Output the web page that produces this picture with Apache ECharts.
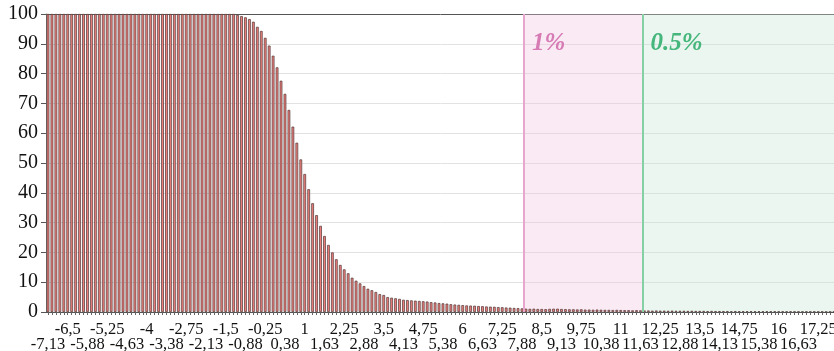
<!DOCTYPE html>
<html>
<head>
<meta charset="utf-8">
<script src="https://cdn.jsdelivr.net/npm/echarts@6/dist/echarts.min.js"></script>
<style>
html,body{margin:0;padding:0;background:#fff}
#chart{width:834px;height:351px}
</style>
</head>
<body>
<div id="chart"></div>
<script>
// x categories: -7.125 .. 17.75, step 0.125 (200 bins)
const xStart = -7.125;
const xStep = 0.125;
const binCount = 200;

// share (%) per bin
const shareValues = [
  100,100,100,100,100,100,100,100,100,100,
  100,100,100,100,100,100,100,100,100,100,
  100,100,100,100,100,100,100,100,100,100,
  100,100,100,100,100,100,100,100,100,100,
  100,100,100,100,100,100,100,100,99.7,99.3,
  98.9,98.3,97.4,95.7,94.3,92.0,89.4,86.0,82.1,77.6,
  73.2,67.8,62.2,56.8,51.2,46.3,41.2,36.5,32.5,28.9,
  25.5,22.5,20.0,17.7,15.8,14.3,13.0,11.5,10.5,9.6,
  8.7,7.8,7.3,6.7,6.0,5.7,5.0,4.8,4.6,4.4,
  4.1,4.0,3.9,3.8,3.7,3.6,3.5,3.3,3.2,3.0,
  2.9,2.8,2.6,2.5,2.4,2.3,2.2,2.15,2.1,2.0,
  1.95,1.85,1.8,1.75,1.65,1.6,1.5,1.45,1.35,1.3,
  1.2,1.1,1.05,1.1,1.0,1.0,0.95,1.05,1.1,1.1,
  1.0,0.95,0.9,0.9,0.85,0.9,0.8,0.8,0.75,0.8,
  0.75,0.7,0.7,0.65,0.7,0.65,0.6,0.6,0.55,0.6,
  0.55,0.5,0.5,0.45,0.5,0.45,0.45,0.4,0.45,0.4,
  0.4,0.4,0.35,0.4,0.35,0.35,0.35,0.3,0.35,0.3,
  0.3,0.3,0.3,0.25,0.3,0.25,0.25,0.25,0.25,0.2,
  0.25,0.2,0.2,0.2,0.2,0.2,0.2,0.15,0.2,0.15,
  0.15,0.15,0.15,0.15,0.15,0.1,0.15,0.1,0.1,0.1
];

// threshold zones (bin edges)
const zoneNames = ['1%', '0.5%'];
const zoneStarts = [7.9375, 11.6875];
const zoneColors = ['#d77bb5', '#45b67c'];
const zoneFills = ['rgba(238,196,221,0.35)', 'rgba(196,229,208,0.35)'];
const zoneLines = ['#e8a6cf', '#86d0a6'];

const categories = [];
for (let i = 0; i < binCount; i++) categories.push(xStart + i * xStep);
const xMin = xStart - xStep / 2;
const xMax = xStart + (binCount - 0.5) * xStep;

function fmt(v) {
  return String(parseFloat(Number(v).toFixed(2))).replace('.', ',');
}

const chart = echarts.init(document.getElementById('chart'));

const serif = '"Liberation Serif", "DejaVu Serif", serif';

const areaData = zoneNames.map(function(name, i) {
  return [{
    xAxis: zoneStarts[i],
    itemStyle: {color: zoneFills[i]},
    label: {
      show: true,
      formatter: name,
      position: 'insideTopLeft',
      offset: [3, 12],
      color: zoneColors[i],
      fontFamily: serif,
      fontStyle: 'italic',
      fontWeight: 'bold',
      fontSize: 25
    }
  }, {
    xAxis: i + 1 < zoneStarts.length ? zoneStarts[i + 1] : xMax
  }];
});

const lineData = zoneStarts.map(function(x, i) {
  return {xAxis: x, lineStyle: {color: zoneLines[i], width: 2, type: 'solid'}};
});

const gridLineColors = ['#555'];
for (let i = 1; i < 10; i++) gridLineColors.push('#e2e2e2');
gridLineColors.push('#555');

// two label rows: every 10th bin, offset by 5 between rows
function labelAxis(offset, margin, withLine) {
  return {
    type: 'category',
    position: 'bottom',
    data: categories,
    axisLine: {show: withLine, onZero: false, lineStyle: {color: '#555', width: 1}},
    axisTick: {show: withLine, interval: 0, length: 3, alignWithLabel: true, lineStyle: {color: '#666'}},
    axisLabel: {
      interval: function(index) { return index % 10 === offset; },
      margin: margin,
      color: '#111',
      fontFamily: serif,
      fontSize: 16.5,
      formatter: fmt
    },
    splitLine: {show: false}
  };
}

chart.setOption({
  animation: false,
  grid: {left: 46, right: -2, top: 14, bottom: 39, outerBoundsMode: 'none'},
  xAxis: [
    labelAxis(5, 9, true),
    labelAxis(0, 24.5, false),
    {type: 'value', min: xMin, max: xMax, show: false}
  ],
  yAxis: {
    type: 'value',
    min: 0,
    max: 100,
    interval: 10,
    axisLine: {show: true, onZero: false, lineStyle: {color: '#777'}},
    axisTick: {show: true, length: 5, lineStyle: {color: '#555'}},
    axisLabel: {
      margin: 8,
      color: '#111',
      fontFamily: serif,
      fontSize: 20
    },
    splitLine: {show: true, lineStyle: {color: gridLineColors, width: 1}}
  },
  series: [{
    type: 'line',
    xAxisIndex: 2,
    z: 1,
    data: [[xMin, 0], [xMax, 0]],
    symbol: 'none',
    lineStyle: {opacity: 0},
    silent: true,
    markArea: {silent: true, data: areaData},
    markLine: {silent: true, symbol: 'none', label: {show: false}, data: lineData}
  }, {
    type: 'bar',
    z: 3,
    data: shareValues,
    barWidth: '68%',
    itemStyle: {color: '#f0817d', borderColor: '#4e3535', borderWidth: 0.7}
  }]
});
</script>
</body>
</html>
